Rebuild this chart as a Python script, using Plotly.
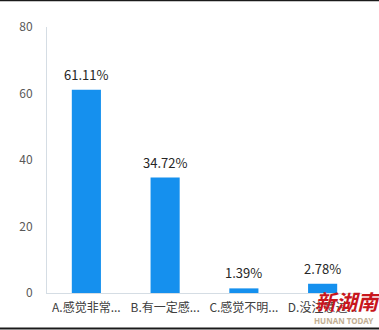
import plotly.graph_objects as go

categories = ["A.感觉非常...", "B.有一定感...", "C.感觉不明...", "D.没注意过..."]
values = [61.11, 34.72, 1.39, 2.78]
labels = ["61.11%", "34.72%", "1.39%", "2.78%"]
y_ticks = [0, 20, 40, 60, 80]

W, H = 379, 330
ml, mr, mt, mb = 47, 17, 27, 37
pw, ph = W - ml - mr, H - mt - mb

def px_x(x):
    return (x - ml) / pw

def px_y(y):
    return (H - mb - y) / ph

fig = go.Figure()
fig.add_trace(go.Bar(
    x=categories, y=values,
    marker=dict(color="#1590EE", line=dict(width=0)),
    width=0.37,
))
for c, v, t in zip(categories, values, labels):
    fig.add_annotation(x=c, y=v, text=t, showarrow=False, yanchor="bottom",
                       yshift=4,
                       font=dict(size=13, color="#262626",
                                 family="Noto Sans CJK SC, Noto Sans, sans-serif"))

fig.update_layout(
    width=W, height=H,
    margin=dict(l=ml, r=mr, t=mt, b=mb),
    paper_bgcolor="white", plot_bgcolor="white",
    showlegend=False,
    font=dict(family="Noto Sans CJK SC, Noto Sans, sans-serif"),
)
fig.update_yaxes(
    range=[0, 80], tickvals=y_ticks, showgrid=False, zeroline=False,
    showline=True, linecolor="#D5DDE4", linewidth=1,
    tickfont=dict(size=12, color="#595959"),
    ticks="", ticklabelstandoff=11,
)
fig.update_xaxes(
    showgrid=False, showline=True, linecolor="#D5DDE4", linewidth=1,
    tickfont=dict(size=12, color="#404040"), ticks="", ticklabelstandoff=4,
)

# frame lines at top and bottom of image
fig.add_shape(type="line", xref="paper", yref="paper",
              x0=px_x(0), x1=px_x(W), y0=px_y(0.5), y1=px_y(0.5),
              line=dict(color="#1a1a1a", width=1.5))
fig.add_shape(type="line", xref="paper", yref="paper",
              x0=px_x(0), x1=px_x(W), y0=px_y(328.5), y1=px_y(328.5),
              line=dict(color="#1a1a1a", width=2))

# watermark
fig.add_annotation(xref="paper", yref="paper", x=px_x(348), y=px_y(301),
                   text="<b><i>新湖南</i></b>", showarrow=False,
                   font=dict(size=21, color="#C8161D", family="Noto Sans CJK SC"),
                   xanchor="center", yanchor="middle")
fig.add_annotation(xref="paper", yref="paper", x=px_x(344), y=px_y(321),
                   text="<b>HUNAN TODAY</b>", showarrow=False,
                   font=dict(size=8, color="#C2AE92", family="Noto Sans"),
                   xanchor="center", yanchor="middle")

fig.write_html("out.html")
